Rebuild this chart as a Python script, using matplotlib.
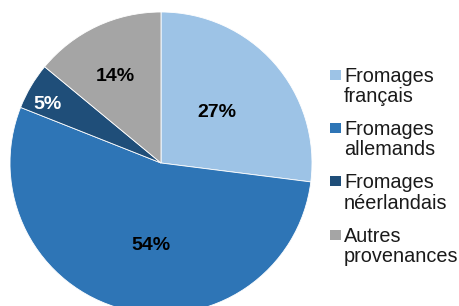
import numpy as np
import matplotlib.pyplot as plt
from matplotlib.patches import Rectangle

plt.rcParams['font.family'] = ['Liberation Sans', 'DejaVu Sans']

labels = ['Fromages\nfrançais', 'Fromages\nallemands', 'Fromages\nnéerlandais', 'Autres\nprovenances']
shares = [27, 54, 5, 14]
colors = ['#9DC3E6', '#2E75B6', '#1F4E79', '#A5A5A5']
pct_colors = ['black', 'black', 'white', 'black']
# where each percentage sits (fraction of radius, angle shift in degrees)
pct_dist = [0.51, 0.54, 0.85, 0.66]
pct_shift = [2, 7, 2.5, 2]

W, H = 459, 306
cx, cy, r = 161, 163, 151   # pie centre and radius in pixels

fig = plt.figure(figsize=(W / 100, H / 100), dpi=100)
ax = fig.add_axes([0, 0, 1, 1])

wedges, _ = ax.pie(shares, colors=colors, startangle=90, counterclock=False,
                   wedgeprops=dict(edgecolor='white', linewidth=0.6))

ax.set_xlim(-cx / r, (W - cx) / r)
ax.set_ylim(-(H - cy) / r, cy / r)
ax.set_aspect('auto')
ax.axis('off')

for w, s, d, sh, c in zip(wedges, shares, pct_dist, pct_shift, pct_colors):
    mid = np.deg2rad((w.theta1 + w.theta2) / 2 + sh)
    ax.text(d * np.cos(mid), d * np.sin(mid), f'{s}%', ha='center',
            va='center_baseline', fontsize=14, fontweight='bold', color=c)

# legend, drawn by hand so the square lines up with the first text line
base0, step, line_h = 81.7, 53.3, 20.3
for i, (lab, col) in enumerate(zip(labels, colors)):
    b = base0 + i * step
    fig.patches.append(Rectangle((330 / W, 1 - (b - 2) / H), 10.5 / W, 10 / H,
                                 transform=fig.transFigure, facecolor=col,
                                 edgecolor='none'))
    for k, line in enumerate(lab.split('\n')):
        fig.text(344 / W, 1 - (b + k * line_h) / H, line, ha='left',
                 va='baseline', fontsize=14.3, color='#1a1a1a')

fig.savefig('out.png', dpi=100)
